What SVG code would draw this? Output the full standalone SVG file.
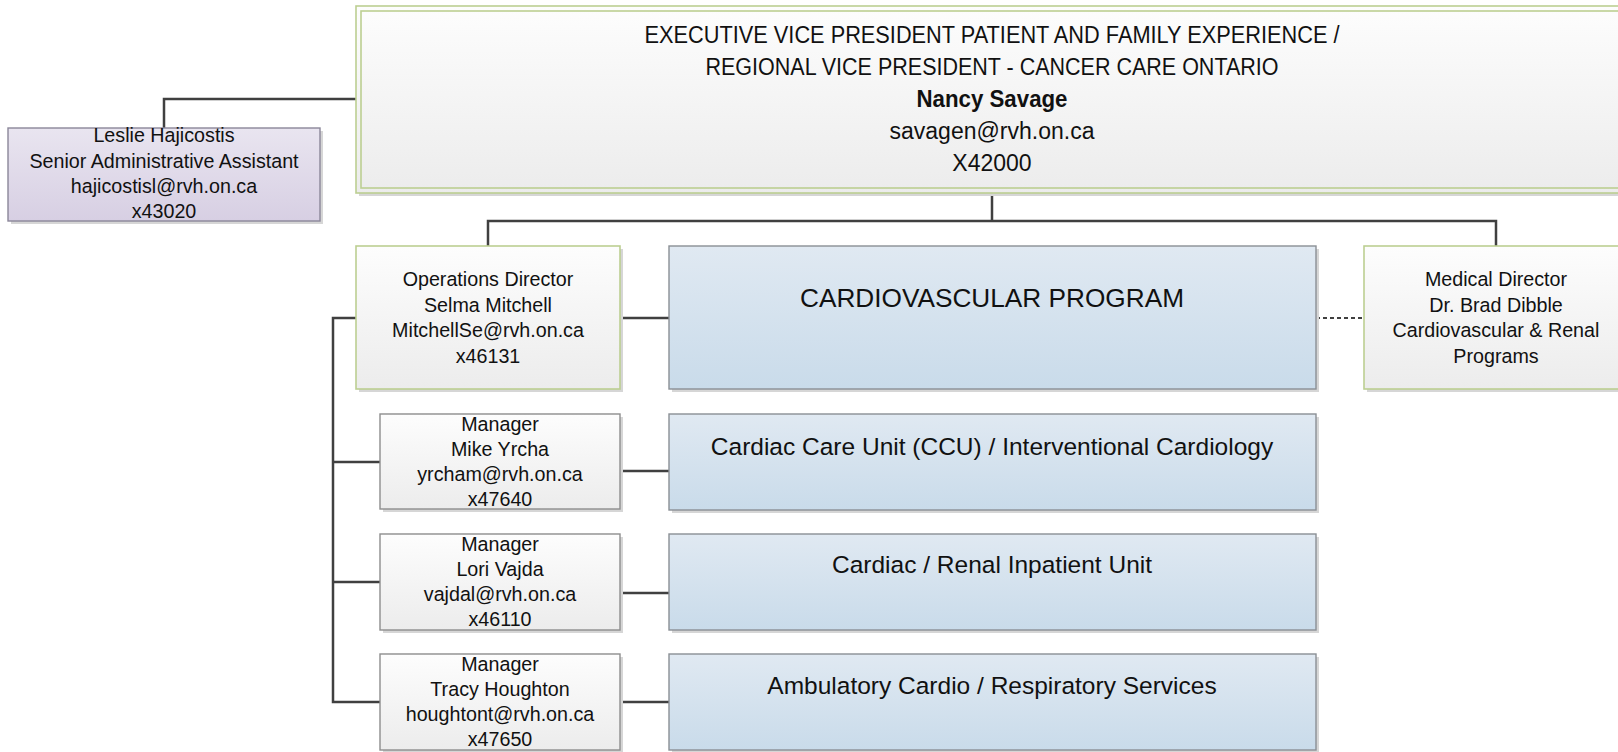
<svg xmlns="http://www.w3.org/2000/svg" width="1618" height="752" viewBox="0 0 1618 752">
<defs>
<linearGradient id="gWhite" x1="0" y1="0" x2="0" y2="1"><stop offset="0" stop-color="#fdfdfd"/><stop offset="1" stop-color="#ececec"/></linearGradient>
<linearGradient id="gBlue" x1="0" y1="0" x2="0" y2="1"><stop offset="0" stop-color="#e0e9f2"/><stop offset="1" stop-color="#c9dbea"/></linearGradient>
<linearGradient id="gPurple" x1="0" y1="0" x2="0" y2="1"><stop offset="0" stop-color="#e9e5f0"/><stop offset="1" stop-color="#d7cfe3"/></linearGradient>
<style>
.sh{fill:#d6d6d6}
.grn{fill:url(#gWhite);stroke:#bccf92;stroke-width:1.6}
.grn2{fill:none;stroke:#bccf92;stroke-width:1.6}
.mgr{fill:url(#gWhite);stroke:#8d8d8d;stroke-width:1.4}
.blue{fill:url(#gBlue);stroke:#8a8f95;stroke-width:1.4}
.pur{fill:url(#gPurple);stroke:#8b8799;stroke-width:1.4}
text{font-family:"Liberation Sans",Arial,sans-serif;fill:#111;text-anchor:middle}
.t{font-size:19.7px}
.top{font-size:23px}
.big{font-size:26px}
.unit{font-size:24.5px}
.con{fill:none;stroke:#404040;stroke-width:2.5}
.dot{fill:none;stroke:#404040;stroke-width:2.2;stroke-dasharray:4 3}
</style>
</defs>

<g id="connectors">
<path class="con" d="M164,128 V99 H356"/>
<path class="con" d="M992,193 V221 M488,246 V221 H1496 V246"/>
<path class="con" d="M620,318 H669"/>
<path class="dot" d="M1316,318 H1364"/>
<path class="con" d="M356,318 H333 V702 H380 M333,462 H380 M333,582 H380"/>
<path class="con" d="M620,471 H669 M620,593 H669 M620,702 H669"/>
</g>

<g id="leslie">
<rect class="sh" x="11" y="131" width="312" height="93"/>
<rect class="pur" x="8" y="128" width="312" height="93"/>
<text class="t" x="164" y="142">Leslie Hajicostis</text>
<text class="t" x="164" y="168">Senior Administrative Assistant</text>
<text class="t" x="164" y="193">hajicostisl@rvh.on.ca</text>
<text class="t" x="164" y="218">x43020</text>
</g>

<g id="evp">
<rect class="sh" x="359" y="9" width="1300" height="187"/>
<rect class="grn" x="356" y="6" width="1300" height="187"/>
<rect class="grn2" x="361" y="11" width="1300" height="177"/>
<text class="top" x="992" y="43" textLength="695" lengthAdjust="spacingAndGlyphs">EXECUTIVE VICE PRESIDENT PATIENT AND FAMILY EXPERIENCE /</text>
<text class="top" x="992" y="75" textLength="573" lengthAdjust="spacingAndGlyphs">REGIONAL VICE PRESIDENT - CANCER CARE ONTARIO</text>
<text class="top" x="992" y="107" font-weight="bold" textLength="151" lengthAdjust="spacingAndGlyphs">Nancy Savage</text>
<text class="top" x="992" y="139">savagen@rvh.on.ca</text>
<text class="top" x="992" y="171">X42000</text>
</g>

<g id="ops-director">
<rect class="sh" x="359" y="249" width="264" height="143"/>
<rect class="grn" x="356" y="246" width="264" height="143"/>
<text class="t" x="488" y="286">Operations Director</text>
<text class="t" x="488" y="312">Selma Mitchell</text>
<text class="t" x="488" y="337">MitchellSe@rvh.on.ca</text>
<text class="t" x="488" y="363">x46131</text>
</g>

<g id="cardio-program">
<rect class="sh" x="672" y="249" width="647" height="143"/>
<rect class="blue" x="669" y="246" width="647" height="143"/>
<text class="big" x="992" y="307" textLength="384" lengthAdjust="spacingAndGlyphs">CARDIOVASCULAR PROGRAM</text>
</g>

<g id="medical-director">
<rect class="sh" x="1367" y="249" width="264" height="143"/>
<rect class="grn" x="1364" y="246" width="264" height="143"/>
<text class="t" x="1496" y="286">Medical Director</text>
<text class="t" x="1496" y="312">Dr. Brad Dibble</text>
<text class="t" x="1496" y="337">Cardiovascular &amp; Renal</text>
<text class="t" x="1496" y="363">Programs</text>
</g>

<g id="mgr-yrcha">
<rect class="sh" x="383" y="417" width="240" height="95"/>
<rect class="mgr" x="380" y="414" width="240" height="95"/>
<text class="t" x="500" y="431">Manager</text>
<text class="t" x="500" y="456">Mike Yrcha</text>
<text class="t" x="500" y="481">yrcham@rvh.on.ca</text>
<text class="t" x="500" y="506">x47640</text>
</g>

<g id="unit-ccu">
<rect class="sh" x="672" y="417" width="647" height="96"/>
<rect class="blue" x="669" y="414" width="647" height="96"/>
<text class="unit" x="992" y="455">Cardiac Care Unit (CCU) / Interventional Cardiology</text>
</g>

<g id="mgr-vajda">
<rect class="sh" x="383" y="537" width="240" height="96"/>
<rect class="mgr" x="380" y="534" width="240" height="96"/>
<text class="t" x="500" y="551">Manager</text>
<text class="t" x="500" y="576">Lori Vajda</text>
<text class="t" x="500" y="601">vajdal@rvh.on.ca</text>
<text class="t" x="500" y="626">x46110</text>
</g>

<g id="unit-renal">
<rect class="sh" x="672" y="537" width="647" height="96"/>
<rect class="blue" x="669" y="534" width="647" height="96"/>
<text class="unit" x="992" y="573">Cardiac / Renal Inpatient Unit</text>
</g>

<g id="mgr-houghton">
<rect class="sh" x="383" y="657" width="240" height="96"/>
<rect class="mgr" x="380" y="654" width="240" height="96"/>
<text class="t" x="500" y="671">Manager</text>
<text class="t" x="500" y="696">Tracy Houghton</text>
<text class="t" x="500" y="721">houghtont@rvh.on.ca</text>
<text class="t" x="500" y="746">x47650</text>
</g>

<g id="unit-ambulatory">
<rect class="sh" x="672" y="657" width="647" height="96"/>
<rect class="blue" x="669" y="654" width="647" height="96"/>
<text class="unit" x="992" y="694">Ambulatory Cardio / Respiratory Services</text>
</g>
</svg>
